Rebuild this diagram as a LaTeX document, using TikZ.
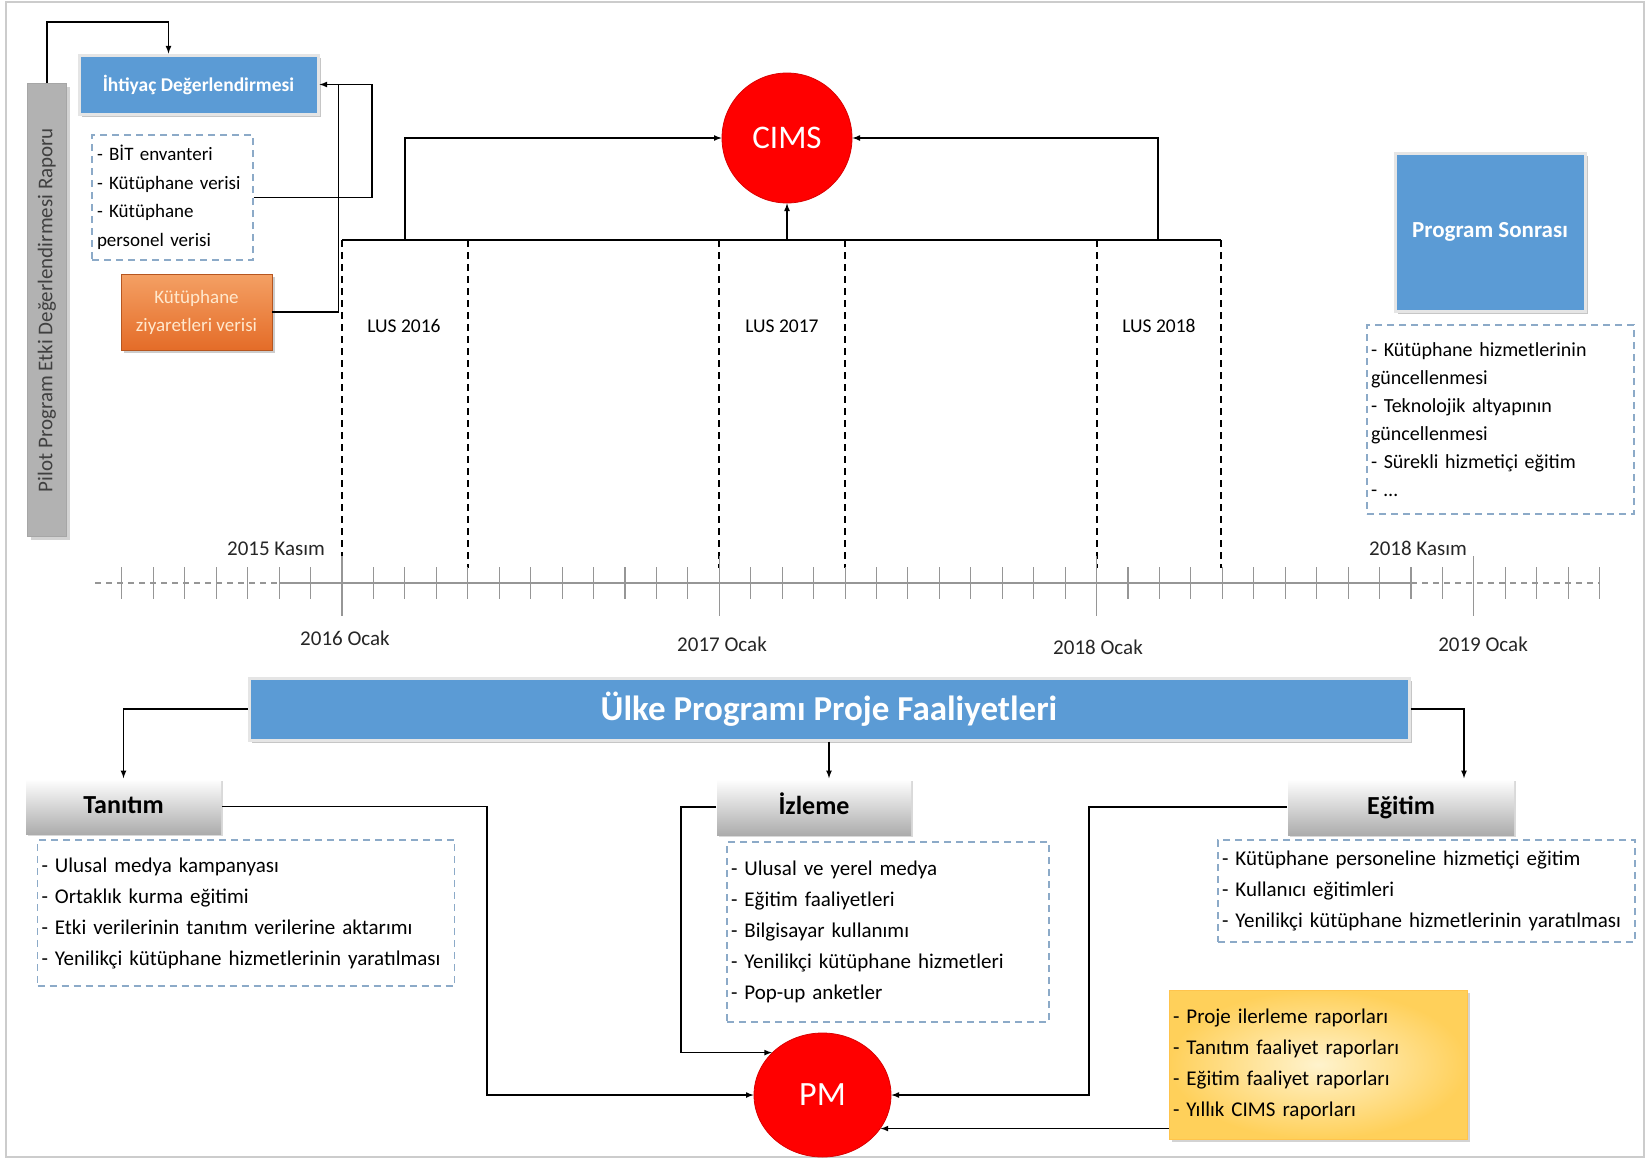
\documentclass[tikz,border=0pt]{standalone}
\usepackage{fontspec}
\setmainfont{Carlito}
\usepackage{tikz}
\usetikzlibrary{arrows, shadows, shapes.geometric}
\definecolor{boxblue}{RGB}{91,155,213}
\definecolor{dashblue}{RGB}{140,170,200}
\definecolor{axisgray}{RGB}{150,150,150}
\definecolor{orangetop}{RGB}{244,160,100}
\definecolor{orangebot}{RGB}{228,108,40}
\definecolor{cream}{RGB}{255,232,205}
\definecolor{goldA}{RGB}{255,208,90}
\definecolor{goldB}{RGB}{255,243,205}
\newcommand{\fs}[2]{\fontsize{#1}{#2}\selectfont}

\begin{document}
\begin{tikzpicture}[x=1pt, y=-1pt, line width=1.6pt, >=latex,
    bluebox/.style={rectangle, fill=boxblue, draw=white!90!black, line width=3pt, text=white,
                    drop shadow={shadow xshift=3pt, shadow yshift=-3pt, opacity=0.45}},
    head/.style={rectangle, top color=white, bottom color=gray!65, text=black, font=\bfseries\fs{26}{30},
                 text height=18pt, text depth=4pt,
                 drop shadow={shadow xshift=2pt, shadow yshift=-2pt, opacity=0.3}},
    list/.style={rectangle, draw=dashblue, dash pattern=on 7pt off 5pt, line width=1.4pt, align=left,
                 font=\fs{21}{31}, inner xsep=4pt, inner ysep=0pt},
    bubble/.style={fill=red, draw=red!85!black, line width=0.8pt, text=white},
    lus/.style={line width=1.4pt, dash pattern=on 7pt off 5pt},
    tick/.style={axisgray, line width=1.1pt},
    date/.style={font=\fs{21}{24}, text=black!85}]

\useasboundingbox (0,0) rectangle (1651,1159);
\draw[gray!40, line width=1.2pt] (6,2) rectangle (1644,1157);

\node[rectangle, rotate=90, fill=gray!60, draw=gray!70, line width=0.6pt, minimum width=453pt, minimum height=39pt,
      text=black!75, font=\fs{21}{24}, drop shadow={shadow xshift=3pt, shadow yshift=-3pt, opacity=0.35}]
                                                   (pilot)     at (47,310)      {Pilot Program Etki Değerlendirmesi Raporu};
\node[bluebox, minimum width=239pt, minimum height=59pt, font=\bfseries\fs{19.5}{22}]
                                                   (ihtiyac)   at (198.5,84.5)  {İhtiyaç Değerlendirmesi};
\node[list, text width=151pt, minimum height=125pt, inner xsep=5pt, font=\fs{19}{28.5}]
                                                   (bit)       at (172.5,197.5) {- BİT envanteri\\- Kütüphane verisi\\- Kütüphane\\personel verisi};
\node[rectangle, top color=orangetop, bottom color=orangebot, draw=orangebot!80!black, line width=0.6pt,
      minimum width=151pt, minimum height=76pt, align=center, text=cream, font=\fs{19}{28},
      drop shadow={shadow xshift=3pt, shadow yshift=-3pt, opacity=0.4}]
                                                   (ziyaret)   at (196.5,312)   {Kütüphane\\ziyaretleri verisi};

\node[bubble, circle, minimum size=130pt, font=\fs{33}{35}] (cims) at (787,138) {CIMS};
\coordinate (lus_a) at (405,240);
\coordinate (lus_b) at (787,240);
\coordinate (lus_c) at (1158,240);
\draw (342,240) -- (1221,240);
\foreach \x in {342,468,719,845,1097,1221}
  \draw[lus] (\x,240) -- (\x,568);
\node[font=\fs{19.5}{22}]                          (lus16)     at (404,326)     {LUS 2016};
\node[font=\fs{19.5}{22}]                          (lus17)     at (782,326)     {LUS 2017};
\node[font=\fs{19.5}{22}]                          (lus18)     at (1159,326)    {LUS 2018};

\node[bluebox, minimum width=190pt, minimum height=158pt, font=\bfseries\fs{23}{27}]
                                                   (sonra)     at (1490,232)    {Program Sonrası};
\node[list, text width=259pt, minimum height=189pt, font=\fs{20}{28}]
                                                   (sonra_l)   at (1500.5,419.5) {- Kütüphane hizmetlerinin\\güncellenmesi\\- Teknolojik altyapının\\güncellenmesi\\- Sürekli hizmetiçi eğitim\\- \dots};

\draw[axisgray, line width=1.6pt, dash pattern=on 6pt off 5pt] (95,583) -- (279,583);
\draw[axisgray, line width=1.8pt] (279,583) -- (1411,583);
\draw[axisgray, line width=1.6pt, dash pattern=on 6pt off 5pt] (1411,583) -- (1600,583);
\foreach \m in {-7,...,40}
  \draw[tick] ({342+31.44*\m},567) -- ++(0,32);
\foreach \m in {0,12,24,36}
  \draw[tick] ({342+31.44*\m},556) -- ++(0,60);
\node[date]                                        (kasim15)   at (276,549)     {2015 Kasım};
\node[date]                                        (kasim18)   at (1418,548)    {2018 Kasım};
\node[date]                                        (ocak16)    at (345,638)     {2016 Ocak};
\node[date]                                        (ocak17)    at (722,644)     {2017 Ocak};
\node[date]                                        (ocak18)    at (1098,647)    {2018 Ocak};
\node[date]                                        (ocak19)    at (1483,644)    {2019 Ocak};

\node[bluebox, minimum width=1160pt, minimum height=62pt, font=\bfseries\fs{35}{38}]
                                                   (ulke)      at (829,709)     {Ülke Programı Proje Faaliyetleri};
\node[head, minimum width=195pt, minimum height=55pt] (tanitim) at (123.5,806.5) {Tanıtım};
\node[head, minimum width=194pt, minimum height=56pt] (izleme)  at (814,807)     {İzleme};
\node[head, minimum width=226pt, minimum height=56pt] (egitim)  at (1401,807)    {Eğitim};
\node[list, text width=409pt, minimum height=146pt] (tanitim_l) at (246,913)     {- Ulusal medya kampanyası\\- Ortaklık kurma eğitimi\\- Etki verilerinin tanıtım verilerine aktarımı\\- Yenilikçi kütüphane hizmetlerinin yaratılması};
\node[list, text width=314pt, minimum height=180pt] (izleme_l)  at (888,932)     {- Ulusal ve yerel medya\\- Eğitim faaliyetleri\\- Bilgisayar kullanımı\\- Yenilikçi kütüphane hizmetleri\\- Pop-up anketler};
\node[list, text width=409pt, minimum height=102pt] (egitim_l)  at (1426.5,891)  {- Kütüphane personeline hizmetiçi eğitim\\- Kullanıcı eğitimleri\\- Yenilikçi kütüphane hizmetlerinin yaratılması};
\node[rectangle, inner color=goldB, outer color=goldA, draw=goldA!85!orange, line width=0.6pt,
      text width=290pt, minimum height=149pt, align=left, inner xsep=4pt, font=\fs{21}{31},
      drop shadow={shadow xshift=3pt, shadow yshift=-3pt, opacity=0.35}]
                                                   (rapor)     at (1318,1064.5) {- Proje ilerleme raporları\\- Tanıtım faaliyet raporları\\- Eğitim faaliyet raporları\\- Yıllık CIMS raporları};
\node[bubble, ellipse, minimum width=137pt, minimum height=124pt, font=\fs{34}{36}] (pm) at (822.5,1095) {PM};

\draw[->] (pilot.east) -- ++(0,-61) -| ([xshift=-30pt]ihtiyac.north);
\draw[->] (bit.east) -- ++(118,0) |- (ihtiyac.east);
\draw (ziyaret.east) -| ([xshift=19pt]ihtiyac.east);
\draw[->] (lus_a) |- (cims.west);
\path[->] (lus_b) edge (cims.south);
\draw[->] (lus_c) |- (cims.east);
\draw[->] (ulke.west) -| (tanitim.north);
\path[->] (ulke.south) edge (ulke.south |- izleme.north);
\draw[->] (ulke.east) -| ([xshift=63pt]egitim.north);
\draw[->] (tanitim.east) -- ++(265,0) |- (pm.west);
\draw[->] (izleme.west) -- ++(-35,0) |- (pm.140);
\draw[->] (egitim.west) -- ++(-198,0) |- (pm.east);
\path[->] (pm.330 -| rapor.west) edge (pm.330);
\end{tikzpicture}
\end{document}
